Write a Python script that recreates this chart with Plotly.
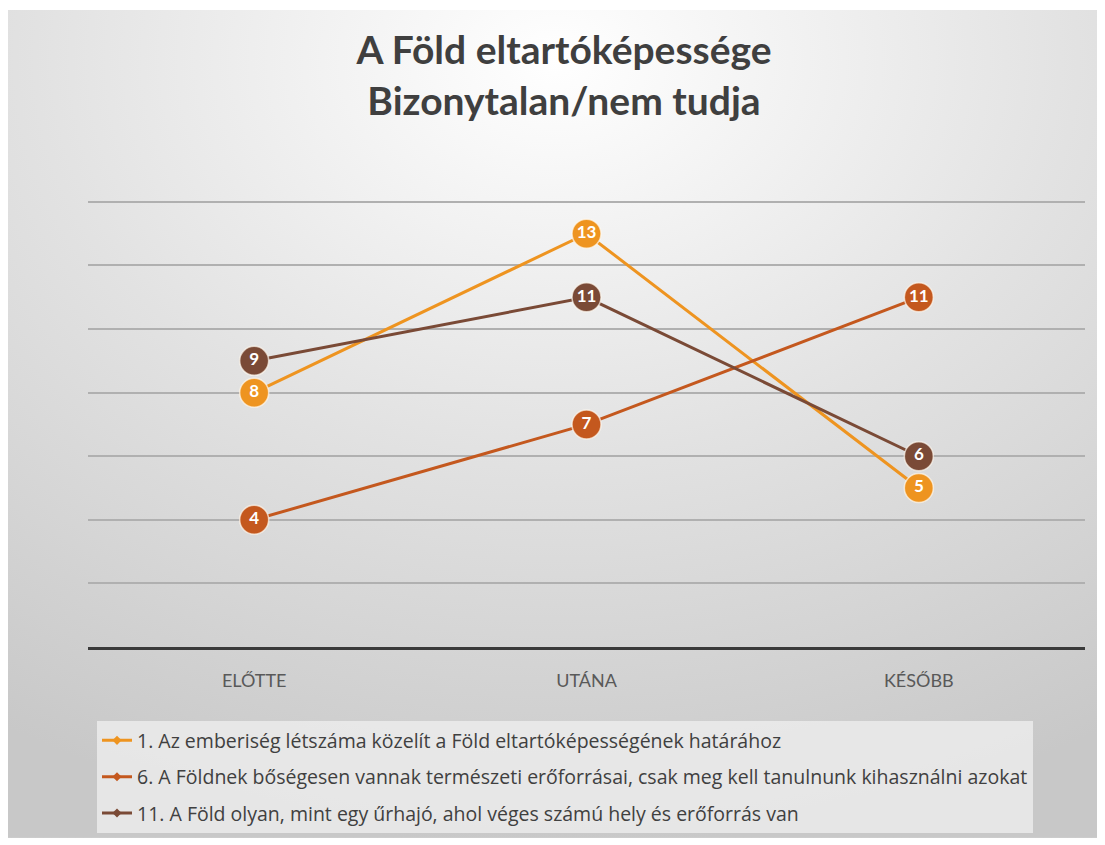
import base64
import plotly.graph_objects as go

categories = ["ELŐTTE", "UTÁNA", "KÉSŐBB"]
series_names = [
    "1. Az emberiség létszáma közelít a Föld eltartóképességének határához",
    "6. A Földnek bőségesen vannak természeti erőforrásai, csak meg kell tanulnunk kihasználni azokat",
    "11. A Föld olyan, mint egy űrhajó, ahol véges számú hely és erőforrás van",
]
s1_values = [8, 13, 5]
s6_values = [4, 7, 11]
s11_values = [9, 11, 6]
colors = ["#EE9420", "#C4581E", "#7A4A36"]

# page has an 8px body margin; figure placed at (8, 8)
OFF = 8
W, H = 1105 - OFF, 845 - OFF
YMAX = 14.5
unit_px = 450 / 14.0
L, R = 88 - OFF, 20
B = H - (652 - OFF)
T = round((202 - OFF) - (YMAX - 14) * unit_px)
pw, ph = W - L - R, H - T - B

svg = (
    '<svg xmlns="http://www.w3.org/2000/svg" width="1097" height="837" viewBox="0 0 1097 837" preserveAspectRatio="none">'
    '<defs><radialGradient id="g" cx="50%" cy="6%" r="95%" fx="50%" fy="6%">'
    '<stop offset="0%" stop-color="#ffffff"/>'
    '<stop offset="50%" stop-color="#e2e2e2"/>'
    '<stop offset="100%" stop-color="#c8c8c8"/>'
    '</radialGradient></defs>'
    '<rect width="1097" height="837" fill="url(#g)"/></svg>'
)
src = "data:image/svg+xml;base64," + base64.b64encode(svg.encode()).decode()

fig = go.Figure()
for name, vals, col in zip(series_names, [s1_values, s6_values, s11_values], colors):
    fig.add_trace(go.Scatter(
        x=categories, y=vals, name=name, showlegend=False,
        mode="lines+markers+text",
        text=[str(v) for v in vals], textposition="middle center",
        textfont=dict(family="Lato", size=17, color="white", weight="bold"),
        line=dict(color=col, width=3),
        marker=dict(size=29, color=col, line=dict(color="rgba(255,250,240,0.7)", width=1.5)),
    ))
# legend entries with small markers
for name, col in zip(series_names, colors):
    fig.add_trace(go.Scatter(
        x=[None], y=[None], name=name, legendgroup=name, mode="lines+markers",
        line=dict(color=col, width=3), marker=dict(size=7, color=col, symbol="diamond"),
    ))

px2x = lambda p: (p - OFF - L) / pw
py2y = lambda p: (H - B - (p - OFF)) / ph

fig.add_layout_image(dict(
    source=src, xref="paper", yref="paper",
    x=-L / pw, y=(H - B) / ph, sizex=W / pw, sizey=H / ph,
    xanchor="left", yanchor="top", sizing="stretch", layer="below",
))

fig.update_layout(
    width=W, height=H,
    margin=dict(l=L, r=R, t=T, b=B),
    paper_bgcolor="white", plot_bgcolor="rgba(0,0,0,0)",
    title=dict(
        text="A Föld eltartóképessége<br>Bizonytalan/nem tudja",
        x=(564 - OFF) / W, xanchor="center", y=1 - (64 - OFF) / H, yanchor="middle",
        font=dict(family="Lato", size=39, color="#3f3f3f", weight="bold"),
    ),
    xaxis=dict(
        type="category", range=[-0.5, 2.5], showgrid=False,
        showline=True, linecolor="#3a3a3a", linewidth=2.5,
        ticks="", tickfont=dict(family="Lato", size=18, color="#595959"),
        ticklabelstandoff=16, fixedrange=True,
    ),
    yaxis=dict(
        range=[0, YMAX], dtick=2, showticklabels=False, showgrid=True,
        gridcolor="#b0b0b0", gridwidth=1.5, zeroline=False, showline=False,
        fixedrange=True,
    ),
    legend=dict(
        x=px2x(97), y=py2y(727), xanchor="left", yanchor="top",
        bgcolor="rgba(238,238,238,0.8)",
        font=dict(family="Open Sans", size=19.5, color="#404040"),
        tracegroupgap=8, itemwidth=30,
    ),
    showlegend=True,
)

fig.write_html("out.html")
